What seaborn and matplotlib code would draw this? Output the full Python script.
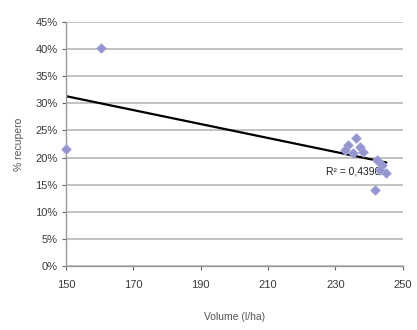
import matplotlib
matplotlib.use("Agg")
import matplotlib.pyplot as plt
import seaborn as sns
import numpy as np
import pandas as pd
from matplotlib.ticker import PercentFormatter

# data
volume = [150, 160.5, 236.2, 233.8, 232.8, 237.2, 235.3, 238.2, 242.2, 243.7, 243.2, 245.1, 241.7]
recupero = [21.6, 40.2, 23.6, 22.3, 21.4, 22.0, 20.8, 21.1, 19.6, 18.6, 17.7, 17.1, 14.0]
x_ticks = [150, 170, 190, 210, 230, 250]
y_ticks = list(range(0, 50, 5))

df = pd.DataFrame({"volume": volume, "recupero": recupero})

sns.set_style("white")
plt.rcParams['font.family'] = ['Liberation Sans', 'DejaVu Sans']

fig = plt.figure(figsize=(4.17, 3.3), dpi=100)
ax = fig.add_axes([0.158, 0.194, 0.808, 0.739])

for y in y_ticks:
    ax.axhline(y, color="#bdbdbd", linewidth=1.3, zorder=0)

# linear trendline (excel style)
sns.regplot(x="volume", y="recupero", data=df, scatter=False, ci=None, truncate=True,
            line_kws={"color": "black", "linewidth": 1.6, "zorder": 2}, ax=ax)

r2 = np.corrcoef(volume, recupero)[0, 1] ** 2
ax.text(227.3, 17.5, f"R² = {r2:.4f}".replace(".", ","), fontsize=7.5, color="#222222",
        va="center", ha="left", zorder=3)

sns.scatterplot(x="volume", y="recupero", data=df, marker="D", s=24, color="#9494cf",
                edgecolor="#a5a5d8", linewidth=0.6, ax=ax, zorder=4, clip_on=False)

ax.set_xlim(150, 250)
ax.set_ylim(0, 45)
ax.set_xticks(x_ticks)
ax.set_yticks(y_ticks)
ax.yaxis.set_major_formatter(PercentFormatter(decimals=0))
ax.tick_params(axis="both", labelsize=8, colors="#666666", length=3, width=0.8, direction="out",
               bottom=True, left=True, pad=3)
ax.tick_params(axis="x", pad=7)
for lbl in ax.get_xticklabels() + ax.get_yticklabels():
    lbl.set_color("#3a3a3a")

for side in ["top", "right"]:
    ax.spines[side].set_visible(False)
for side in ["left", "bottom"]:
    ax.spines[side].set_color("#999999")
    ax.spines[side].set_linewidth(1)

ax.set_xlabel("Volume (l/ha)", fontsize=7.5, color="#555555", labelpad=16)
ax.set_ylabel("% recupero", fontsize=7.5, color="#555555", labelpad=8)

plt.savefig("out.png", dpi=100)
